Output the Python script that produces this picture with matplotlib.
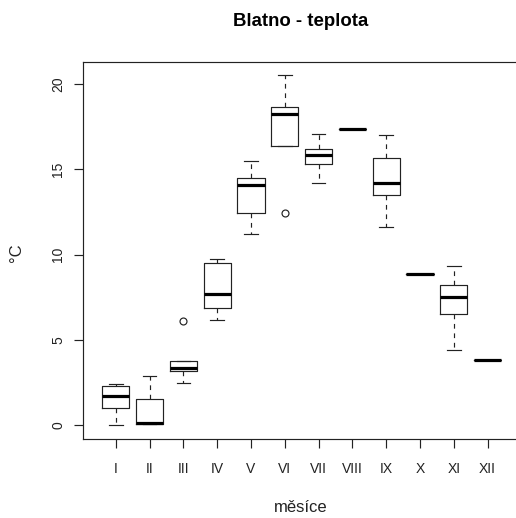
import matplotlib
matplotlib.use('Agg')
import matplotlib.pyplot as plt

plt.rcParams['font.family'] = ['Liberation Sans', 'DejaVu Sans']

months = ['I', 'II', 'III', 'IV', 'V', 'VI', 'VII', 'VIII', 'IX', 'X', 'XI', 'XII']
whislo = [0.0, 0.1, 2.5, 6.2, 11.2, 16.4, 14.2, 17.4, 11.6, 8.9, 4.4, 3.85]
q1 = [1.0, 0.1, 3.2, 6.85, 12.45, 16.4, 15.35, 17.4, 13.5, 8.9, 6.55, 3.85]
med = [1.7, 0.15, 3.35, 7.7, 14.1, 18.25, 15.85, 17.4, 14.2, 8.9, 7.5, 3.85]
q3 = [2.3, 1.55, 3.8, 9.5, 14.5, 18.65, 16.2, 17.4, 15.7, 8.9, 8.2, 3.85]
whishi = [2.45, 2.9, 3.8, 9.75, 15.5, 20.55, 17.1, 17.4, 17.05, 8.9, 9.35, 3.85]
fliers = [[], [], [6.1], [], [], [12.45], [], [], [], [], [], []]

title = 'Blatno - teplota'
xlabel = 'měsíce'
ylabel = '°C'

stats = []
for i, m in enumerate(months):
    stats.append(dict(label=m, whislo=whislo[i], q1=q1[i], med=med[i],
                      q3=q3[i], whishi=whishi[i], fliers=fliers[i]))

W, H = 516, 518
fig = plt.figure(figsize=(W / 100, H / 100), dpi=100)
ax = fig.add_axes([82.7 / W, 1 - 439.3 / H, 438 / W, 377.6 / H])

lc = '#222222'
ax.bxp(stats, positions=range(1, 13), widths=0.8,
       boxprops=dict(color=lc, linewidth=0.85),
       whiskerprops=dict(color=lc, linewidth=0.85, linestyle=(0, (4, 4))),
       capprops=dict(color=lc, linewidth=0.85),
       medianprops=dict(color='black', linewidth=2.3, solid_capstyle='butt'),
       flierprops=dict(marker='o', markerfacecolor='none', markeredgecolor=lc,
                       markersize=5, markeredgewidth=0.85))

ax.set_xlim(0.02, 12.98)
ax.set_ylim(-0.82, 21.32)
ax.set_yticks([0, 5, 10, 15, 20])
ax.set_xticks(range(1, 13))
ax.set_xticklabels(months)

for s in ax.spines.values():
    s.set_color(lc)
    s.set_linewidth(0.85)

ax.tick_params(axis='both', length=6.7, width=0.85, color=lc, labelsize=10,
               labelcolor='#222222')
ax.tick_params(axis='y', labelrotation=90, pad=6)
ax.tick_params(axis='x', pad=10)
for lab in ax.get_yticklabels():
    lab.set_va('center')

fig.text(301 / W, 1 - 22 / H, title, ha='center', va='center',
         fontsize=13.4, fontweight='bold', color='black')
fig.text(301 / W, 1 - 508 / H, xlabel, ha='center', va='center',
         fontsize=12, color='#222222')
fig.text(17 / W, 1 - 253 / H, ylabel, ha='center', va='center',
         rotation=90, fontsize=12, color='#222222')

fig.savefig('out.png', dpi=100)
